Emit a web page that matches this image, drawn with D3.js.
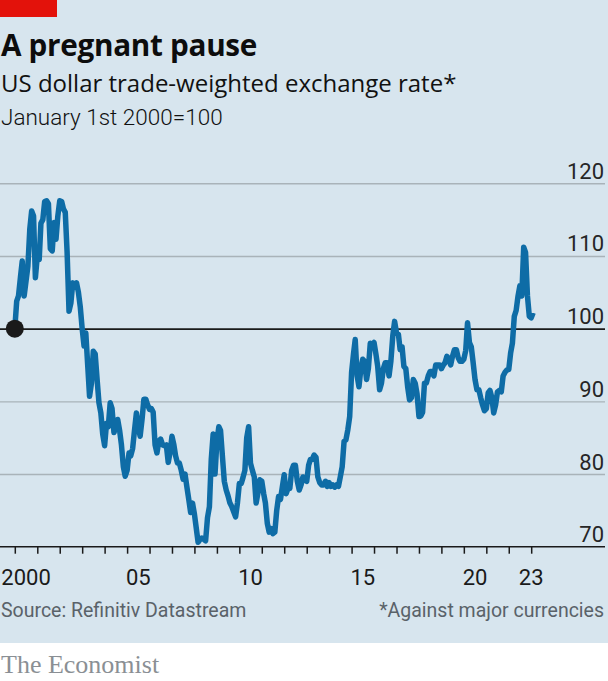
<!DOCTYPE html>
<html>
<head>
<meta charset="utf-8">
<script src="https://cdn.jsdelivr.net/npm/d3@7/dist/d3.min.js"></script>
<style>
  html, body { margin: 0; padding: 0; background: #ffffff; }
  svg { display: block; }
</style>
</head>
<body>
<script>
// ---- Data (monthly, January 2000 = 100) ----
const startMonth = "2000-01-01";
const values = [
  // 2000
  100, 103.8, 104.5, 107, 109.3, 104.5, 106.5, 108.6, 113.7, 116.2, 115.5, 107,
  // 2001
  110, 109.5, 114.5, 115, 117.5, 117.6, 117.2, 111, 110.7, 114.6, 112.3, 115.5,
  // 2002
  117.6, 117.5, 116.5, 116, 110.5, 102.4, 103.5, 106.3, 106, 106.3, 105, 103,
  // 2003
  100, 97.6, 99.4, 95, 90.7, 92.5, 96.9, 96.5, 93, 89.8, 88.4, 85.5,
  // 2004
  83.9, 87, 86.5, 89.8, 89, 85.7, 86.5, 87.5, 86, 84, 81, 79.7,
  // 2005
  80.5, 82.9, 82.5, 83.5, 86, 88.4, 86.5, 85.2, 87.5, 90.3, 90.3, 89.5,
  // 2006
  88.9, 89, 88.5, 84, 82.9, 84.5, 84.8, 84, 83.9, 84, 81.6, 83,
  // 2007
  85.2, 84, 82.5, 81.5, 81.5, 80.5, 79.3, 80, 78.2, 76.5, 74.7, 76,
  // 2008
  74.5, 72.5, 70.6, 71, 71.2, 71, 70.8, 74, 75.5, 82, 85.5, 80,
  // 2009
  84.5, 86.5, 86, 82.4, 79, 77.8, 77, 76, 75.5, 74.8, 74.1, 76,
  // 2010
  78.7, 78.7, 79.5, 80.5, 85, 86.5, 81.5, 80.5, 79.6, 76, 77.5, 79.2,
  // 2011
  79, 77.3, 76, 73.2, 72, 72.5, 71.8, 72, 75, 76.9, 76.5, 78.2,
  // 2012
  79.9, 77.3, 78, 78, 80.5, 81.2, 81.2, 79, 77.8, 78.5, 79.6, 79.2,
  // 2013
  79, 81.2, 82, 82, 82.6, 82.3, 79.6, 78.8, 78.5, 78.5, 79, 78.3,
  // 2014
  78.8, 78.3, 78.5, 78.2, 78.5, 78.3, 79.6, 81, 84.5, 84.7, 86.1, 87.9,
  // 2015
  94, 96.5, 98.5, 93.5, 92, 94.5, 95.8, 95.5, 93, 94.5, 98, 97.8,
  // 2016
  98.1, 96.5, 94.8, 91.6, 92.5, 94.5, 95.3, 95.3, 93.5, 95.5, 99, 101,
  // 2017
  99.4, 99.2, 97.1, 97.5, 94.8, 94.5, 92, 90.2, 90.5, 93, 92.5, 91,
  // 2018
  87.9, 88, 88.5, 92.5, 92.5, 93.5, 94.1, 94.1, 93.5, 95, 95, 95,
  // 2019
  94.5, 95, 95.3, 96.2, 95.8, 95, 96.2, 97.1, 97.1, 96, 95.5, 95.5,
  // 2020
  95.8, 97, 100.8, 98.1, 97.5, 95.3, 93, 91.6, 91.6, 90.5, 89.5, 88.7,
  // 2021
  89, 91.2, 91.5, 90.5, 88.4, 89.5, 91.3, 91.5, 91.3, 93.5, 94, 94.3,
  // 2022
  94.4, 96.7, 98, 101.7, 102.5, 104.5, 105.9, 104.5, 111.2, 110.5, 104.5, 101.7,
  // 2023
  101.5, 102.2
];
const yTicks = [70, 80, 90, 100, 110, 120];
const tickYears = d3.range(2000, 2024);
const labelYears = [2000, 2005, 2010, 2015, 2020, 2023];
const labelText = ["2000", "05", "10", "15", "20", "23"];
const titleText = "A pregnant pause";
const subtitleText = "US dollar trade-weighted exchange rate*";
const unitText = "January 1st 2000=100";
const sourceText = "Source: Refinitiv Datastream";
const noteText = "*Against major currencies";

// ---- Layout ----
const W = 608, H = 681;
const bg = "#d7e5ee";
const blue = "#0e6ca6";
const font = "Roboto, 'Open Sans', sans-serif";
const headFont = "'Open Sans', Roboto, sans-serif";

const svg = d3.select("body").append("svg").attr("width", W).attr("height", H);
svg.append("rect").attr("width", W).attr("height", 643).attr("fill", bg);
svg.append("rect").attr("x", 0).attr("y", 0).attr("width", 57).attr("height", 17).attr("fill", "#e3120b");

svg.append("text").attr("x", 1).attr("y", 56).text(titleText)
  .attr("font-family", headFont).attr("font-weight", 700).attr("font-size", 29.7).attr("fill", "#0d0d0d")
  .attr("letter-spacing", -0.3);
svg.append("text").attr("x", 1).attr("y", 92).text(subtitleText)
  .attr("font-family", headFont).attr("font-size", 24).attr("fill", "#111");
svg.append("text").attr("x", 1).attr("y", 125).text(unitText)
  .attr("font-family", font).attr("font-weight", 300).attr("font-size", 22.5).attr("fill", "#111");

const parse = d3.utcParse("%Y-%m-%d");
const t0 = parse(startMonth);
const data = values.map((v, i) => ({ date: d3.utcMonth.offset(t0, i), value: v }));

const x = d3.scaleUtc().domain([parse("2000-01-01"), parse("2023-01-01")]).range([14.8, 531.2]);
const y = d3.scaleLinear().domain([70, 120]).range([546.7, 183.3]);

// gridlines + y labels
const yAxis = svg.append("g")
  .call(d3.axisRight(y).tickValues(yTicks).tickSize(605).tickFormat(d => d));
yAxis.select(".domain").remove();
yAxis.selectAll(".tick line")
  .attr("stroke", d => d === 100 ? "#1a1a1a" : "#a9b3b9")
  .attr("stroke-width", d => d === 100 ? 1.6 : 1.4)
  .attr("opacity", d => d === 70 ? 0 : 1);
yAxis.selectAll(".tick text")
  .attr("x", 604).attr("dy", null).attr("y", -5)
  .attr("text-anchor", "end")
  .attr("font-family", font).attr("font-size", 22).attr("fill", "#262626");

// x axis
const xAxis = svg.append("g").attr("transform", `translate(0,${y(70)})`)
  .call(d3.axisBottom(x).tickValues(tickYears.map(yr => new Date(Date.UTC(yr, 0, 1)))).tickSize(7).tickFormat(""));
xAxis.select(".domain").remove();
xAxis.selectAll(".tick line").attr("stroke", "#1a1a1a").attr("stroke-width", 1.5);
xAxis.append("line").attr("x1", 0).attr("x2", 605).attr("y1", 0).attr("y2", 0)
  .attr("stroke", "#1a1a1a").attr("stroke-width", 1.6);

xAxis.selectAll(".ylabel").data(labelYears).enter().append("text")
  .attr("class", "ylabel")
  .attr("x", yr => yr === 2023 ? x(new Date(Date.UTC(yr, 0, 1)))
        : (x(new Date(Date.UTC(yr, 0, 1))) + x(new Date(Date.UTC(yr + 1, 0, 1)))) / 2)
  .attr("y", 38)
  .attr("text-anchor", "middle")
  .attr("font-family", font).attr("font-size", 22).attr("fill", "#1a1a1a")
  .text((yr, i) => labelText[i]);

// line
const line = d3.line().x(d => x(d.date)).y(d => y(d.value));
svg.append("path").datum(data)
  .attr("d", line)
  .attr("fill", "none").attr("stroke", blue).attr("stroke-width", 5.5)
  .attr("stroke-linejoin", "round").attr("stroke-linecap", "butt");

// start dot
svg.append("circle").attr("cx", x(data[0].date)).attr("cy", y(data[0].value)).attr("r", 9)
  .attr("fill", "#1a1a1a");

// footer
svg.append("text").attr("x", 1).attr("y", 617).text(sourceText)
  .attr("font-family", font).attr("font-size", 19.5).attr("fill", "#5a6269");
svg.append("text").attr("x", 604).attr("y", 617).attr("text-anchor", "end").text(noteText)
  .attr("font-family", font).attr("font-size", 19.5).attr("fill", "#5a6269");
svg.append("text").attr("x", 1).attr("y", 673).text("The Economist")
  .attr("font-family", "'Liberation Serif', 'DejaVu Serif', serif").attr("font-size", 26).attr("fill", "#8a8f94");
</script>
</body>
</html>
